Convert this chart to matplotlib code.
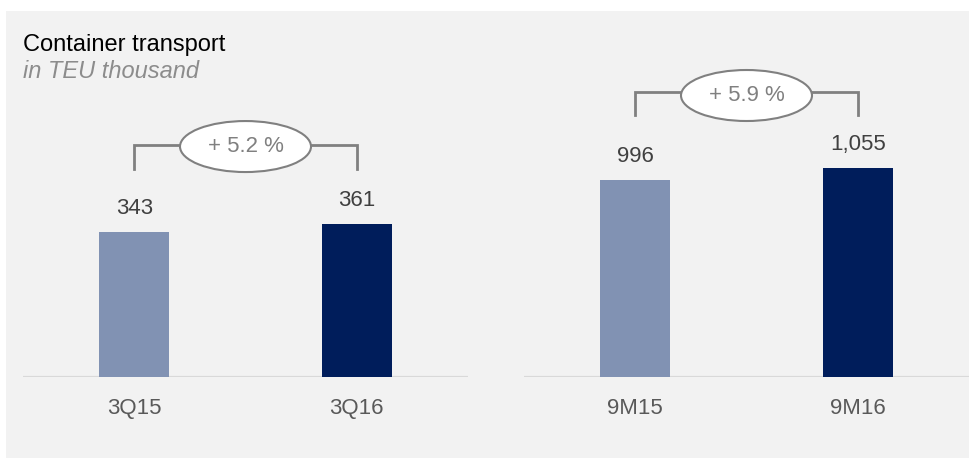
import matplotlib.pyplot as plt
from matplotlib.patches import Ellipse, Rectangle

plt.rcParams['font.family'] = ['Liberation Sans', 'DejaVu Sans']

# data
quarter_labels = ["3Q15", "3Q16"]
quarter_values = [343, 361]
quarter_growth = "+ 5.2 %"

ninemonth_labels = ["9M15", "9M16"]
ninemonth_values = [996, 1055]
ninemonth_growth = "+ 5.9 %"

bar_colors = ["#8192b3", "#001d5b"]
W, H = 970, 458

fig = plt.figure(figsize=(W / 100, H / 100), dpi=100)
fig.patch.set_facecolor("white")
fig.patches.append(Rectangle((6 / W, 0), 964 / W, 447 / H, transform=fig.transFigure,
                             facecolor="#f2f2f2", edgecolor="none", zorder=-5))

fig.text(23 / W, 1 - 45 / H, "Container transport", fontsize=17, color="black", va="center")
fig.text(23 / W, 1 - 72 / H, "in TEU thousand", fontsize=17, color="#8c8c8c",
         style="italic", va="center")


def panel(left_px, right_px, labels, values, ymax, growth, br_bottom, br_top, ell_y):
    ax = fig.add_axes([left_px / W, 81 / H, (right_px - left_px) / W, 317 / H])
    ax.set_facecolor("none")
    x = [0, 1]
    ax.bar(x, values, width=0.315, color=bar_colors, zorder=2)
    ax.set_xlim(-0.5, 1.5)
    ax.set_ylim(0, ymax)
    ax.axhline(0, color="#d9d9d9", lw=1.6, zorder=1)
    for xi, v in zip(x, values):
        ax.annotate(f"{v:,}", (xi, v), xytext=(0, 17), textcoords="offset points",
                    ha="center", va="center", fontsize=16, color="#404040")
    ax.set_xticks(x, labels)
    ax.tick_params(length=0, pad=15, labelsize=16, labelcolor="#595959")
    ax.set_yticks([])
    for s in ax.spines.values():
        s.set_visible(False)
    # growth bracket
    tr = ax.get_xaxis_transform()
    ax.plot([0, 0, 1, 1], [br_bottom, br_top, br_top, br_bottom], color="#808080",
            lw=2, transform=tr, clip_on=False, solid_joinstyle="miter")
    ax.add_patch(Ellipse((0.5, ell_y), 131 / (right_px - left_px), 51 / 317,
                         transform=ax.transAxes, facecolor="white", edgecolor="#808080",
                         lw=1.5, clip_on=False, zorder=3))
    ax.text(0.5, ell_y, growth, transform=ax.transAxes, ha="center", va="center",
            fontsize=16, color="#808080", zorder=4)
    return ax


panel(23, 468, quarter_labels, quarter_values, 749, quarter_growth, 0.656, 0.732, 0.727)
panel(524, 969, ninemonth_labels, ninemonth_values, 1601, ninemonth_growth, 0.826, 0.899, 0.888)

fig.savefig("out.png", dpi=100, facecolor=fig.get_facecolor())
